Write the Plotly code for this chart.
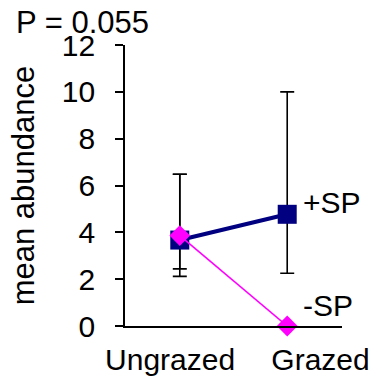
import plotly.graph_objects as go

# Grazing treatment categories and their plotting positions
categories = ["Ungrazed", "Grazed"]
positions = [0, 1]
label_positions = [-0.09, 1.31]

# Mean abundance with speckled-plant (+SP) and without (-SP)
plus_sp = [3.67, 4.77]
plus_sp_err_up = [2.81, 5.23]
plus_sp_err_down = [1.55, 2.52]

minus_sp = [3.86, 0.0]
minus_sp_err_up = [2.62, 0.0]
minus_sp_err_down = [1.42, 0.0]

series_labels = ["+SP", "-SP"]
p_text = "P = 0.055"

FONT = "Liberation Sans, Arial, Helvetica, sans-serif"
NAVY = "#000080"
MAGENTA = "#FF00FF"

fig = go.Figure()

# error bars first so the markers sit on top of them
for yv, up, dn in [(plus_sp, plus_sp_err_up, plus_sp_err_down),
                   (minus_sp, minus_sp_err_up, minus_sp_err_down)]:
    fig.add_trace(go.Scatter(
        x=positions, y=yv, mode="markers",
        marker=dict(size=1, opacity=0),
        error_y=dict(type="data", symmetric=False, array=up, arrayminus=dn,
                     color="black", thickness=1.6, width=7),
        showlegend=False, hoverinfo="skip", cliponaxis=False,
    ))

fig.add_trace(go.Scatter(
    x=positions, y=plus_sp, mode="lines+markers", name=series_labels[0],
    line=dict(color=NAVY, width=4),
    marker=dict(symbol="square", size=19, color=NAVY),
    cliponaxis=False, showlegend=False,
))
fig.add_trace(go.Scatter(
    x=positions, y=minus_sp, mode="lines+markers", name=series_labels[1],
    line=dict(color=MAGENTA, width=1.6),
    marker=dict(symbol="diamond", size=16, color=MAGENTA),
    cliponaxis=False, showlegend=False,
))

# series labels beside the grazed points
fig.add_annotation(x=positions[1], y=plus_sp[1], text=series_labels[0],
                   xanchor="left", yanchor="middle", showarrow=False,
                   xshift=14, yshift=12, font=dict(size=30, color="black", family=FONT))
fig.add_annotation(x=positions[1], y=minus_sp[1], text=series_labels[1],
                   xanchor="left", yanchor="middle", showarrow=False,
                   xshift=14, yshift=21, font=dict(size=30, color="black", family=FONT))

# significance note in the top-left corner
fig.add_annotation(xref="paper", yref="paper", x=-0.512, y=1.08, text=p_text,
                   xanchor="left", yanchor="middle", showarrow=False,
                   font=dict(size=31, color="black", family=FONT))

fig.update_layout(
    width=375, height=376,
    margin=dict(l=125, r=33, t=45, b=50),
    paper_bgcolor="white", plot_bgcolor="white",
    font=dict(family=FONT, size=30, color="black"),
    showlegend=False,
)
fig.update_xaxes(
    range=[-0.51, 1.51], tickmode="array", tickvals=label_positions, ticktext=categories,
    showline=True, linecolor="black", linewidth=1.6, ticks="", showgrid=False,
    zeroline=False, tickfont=dict(size=30), ticklabelstandoff=6, automargin=False,
)
fig.update_yaxes(
    range=[0, 12], dtick=2, tick0=0, showline=True, linecolor="black", linewidth=1.6,
    ticks="outside", ticklen=8, tickwidth=1.6, tickcolor="black",
    showgrid=False, zeroline=False, tickfont=dict(size=30), ticklabelstandoff=14,
    title=dict(text="mean abundance", font=dict(size=31), standoff=18),
    automargin=False,
)

fig.write_html("out.html")
